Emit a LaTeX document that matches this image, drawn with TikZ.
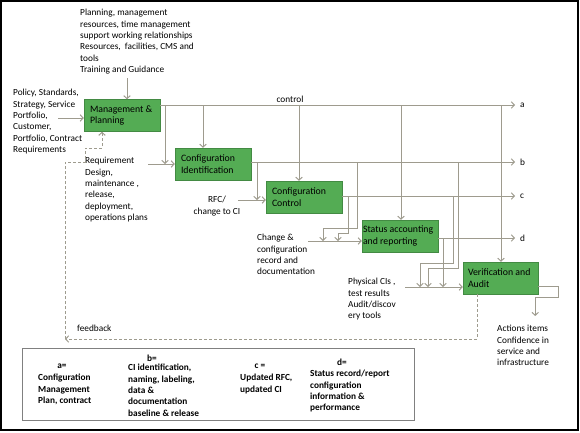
\documentclass[tikz,border=0pt]{standalone}
\usepackage{fontspec}
\setmainfont{Carlito}
\usepackage{xcolor}
\usetikzlibrary{arrows.meta}
\usetikzlibrary{positioning}
\definecolor{stagegreen}{RGB}{84,172,84}
\definecolor{wiregray}{RGB}{158,155,142}
\newcommand{\diagfont}{\fontsize{9.3pt}{11.4pt}\selectfont}
\newcommand{\stagefont}{\fontsize{9.8pt}{11.6pt}\selectfont}
\tikzset{flow/.style = {draw=wiregray, line width=1pt,
                        -{Straight Barb[length=3pt,width=6.5pt]}}}
\tikzset{back/.style = {flow, dash pattern=on 3pt off 2pt}}
\tikzset{stage/.style = {draw=stagegreen!80!black, fill=stagegreen,
                         text width=64pt, minimum height=32pt,
                         inner xsep=6pt, inner ysep=2pt, align=flush left, font=\stagefont}}
\tikzset{note/.style = {inner sep=0pt, align=left, anchor=north west, font=\diagfont}}
\tikzset{key/.style = {note, font=\diagfont\bfseries}}

\begin{document}
\begin{tikzpicture}[x=1pt, y=-1pt]
	\useasboundingbox (0,0) rectangle (580,432);
	\draw [line width=1.5pt] (1,1) rectangle (578,430);

	% the five stages
	\node [stage] (mgmt) at (122,115.5) {Management \&\\Planning};
	\node [stage] (ident) at (213,164) {Configuration\\Identification};
	\node [stage] (ctrl) at (304,197) {Configuration\\Control};
	\node [stage, text width=74pt, inner xsep=1pt] (status) at (400,236) {Status accounting\\and reporting};
	\node [stage, text width=65pt, inner xsep=5pt] (audit) at (500.5,278) {Verification and\\Audit};

	% texts round the stages
	\node [note] (plan) at (80,9) {Planning, management\\resources, time management\\support working relationships\\Resources,~ facilities, CMS and\\tools\\Training and Guidance};
	\node [note] (policy) at (13,89) {Policy, Standards,\\Strategy, Service\\Portfolio,\\Customer,\\Portfolio, Contract\\Requirements};
	\node [note] (req) at (85,157) {Requirement\\Design,\\maintenance ,\\release,\\deployment,\\operations plans};
	\node [note, anchor=north, align=center] (rfc) at (217,196) {RFC/\\change to CI};
	\node [note] (change) at (257,234) {Change \&\\configuration\\record and\\documentation};
	\node [note] (phys) at (348,278) {Physical CIs ,\\test results\\Audit/discov\\ery tools};
	\node [note] (actions) at (497,325) {Actions items\\Confidence in\\service and\\infrastructure};
	\node [note] (fbtext) at (77,325) {feedback};
	\node [note, anchor=south] (ctltext) at (290,103) {control};

	% inputs
	\coordinate (in1) at (127,78);
	\coordinate (in2) at (58,118);
	\coordinate (in3) at (148,164);
	\coordinate (in4) at (238,200);
	\coordinate (in5) at (308,241);
	\coordinate (in6) at (405,287);
	\draw [flow] (in1) to (in1 |- mgmt.north);
	\draw [flow] (in2) to (in2 -| mgmt.west);
	\draw [flow] (in3) to (in3 -| ident.west);
	\draw [flow] (in4) to (in4 -| ctrl.west);
	\draw [flow] (in5) to (in5 -| status.west);
	\draw [flow] (in6) to (in6 -| audit.west);

	% outputs a to d
	\coordinate (a) at (515,105);
	\coordinate (b) at (515,162);
	\coordinate (c) at (515,196);
	\coordinate (d) at (515,238);
	\draw [flow] (mgmt.east |- a) to (a);
	\draw [flow] (ident.east |- b) to (b);
	\draw [flow] (ctrl.east |- c) to (c);
	\draw [flow] (status.east |- d) to (d);
	\node [note, right=5pt of a] (la) {a};
	\node [note, right=5pt of b] (lb) {b};
	\node [note, right=5pt of c] (lc) {c};
	\node [note, right=5pt of d] (ld) {d};

	% control drops
	\coordinate (a2) at (165,105);
	\coordinate (a3) at (203,105);
	\coordinate (a4) at (299,105);
	\coordinate (a5) at (401,105);
	\coordinate (a6) at (501,105);
	\draw [flow] (a2) to (a2 |- in3);
	\draw [flow] (a3) to (a3 |- ident.north);
	\draw [flow] (a4) to (a4 |- ctrl.north);
	\draw [flow] (a5) to (a5 |- status.north);
	\draw [flow] (a6) to (a6 |- audit.north);
	\coordinate (b1) at (257,162);
	\coordinate (b2) at (357,162);
	\coordinate (b3) at (458,162);
	\coordinate (c1) at (348,196);
	\coordinate (c2) at (453,196);
	\coordinate (d1) at (443,238);
	\draw [flow] (b1) to (b1 |- in4);
	\draw [flow] (b2) -- ++(0,66) -- ++(-34,0) -- ++(0,13);
	\draw [flow] (c1) -- ++(0,37) -- ++(-10,0) -- ++(0,8);
	\draw [flow] (c2) -- ++(0,67) -- ++(-33,0) -- ++(0,24);
	\draw [flow] (b3) -- ++(0,106) -- ++(-30,0) -- ++(0,19);
	\draw [flow] (d1) to (d1 |- in6);
	\draw [flow] ([yshift=-8pt]audit.east) -- ++(20,0) -- ++(0,11) -- ++(-23,0) -- ++(0,19);

	% feedback
	\coordinate (fb1) at (477,339);
	\coordinate (fb2) at (65,339);
	\coordinate (fb3) at (102,148);
	\draw [back] (audit.south -| fb1) to (fb1) to (fb2);
	\draw [back] (fb2) -- ++(0,-177) -- ++(20,0) -- ++(0,-14) -- (fb3) to (fb3 |- mgmt.south);

	% legend
	\node [draw=gray, line width=0.8pt, minimum width=392pt, minimum height=72pt] (legend) at (218,384) {};
	\node [key, anchor=center] (ka) at (62,366) {a=};
	\node [key, anchor=center] (kb) at (152,358) {b=};
	\node [key, anchor=center] (kc) at (260,366) {c =};
	\node [key, anchor=center] (kd) at (342,362) {d=};
	\node [key] (ta) at (38,374) {Configuration\\Management\\Plan, contract};
	\node [key] (tb) at (128,364) {CI identification,\\naming, labeling,\\data \&\\documentation\\baseline \& release};
	\node [key] (tc) at (240,374) {Updated RFC,\\updated CI};
	\node [key] (td) at (310,370) {Status record/report\\configuration\\information \&\\performance};
\end{tikzpicture}
\end{document}
